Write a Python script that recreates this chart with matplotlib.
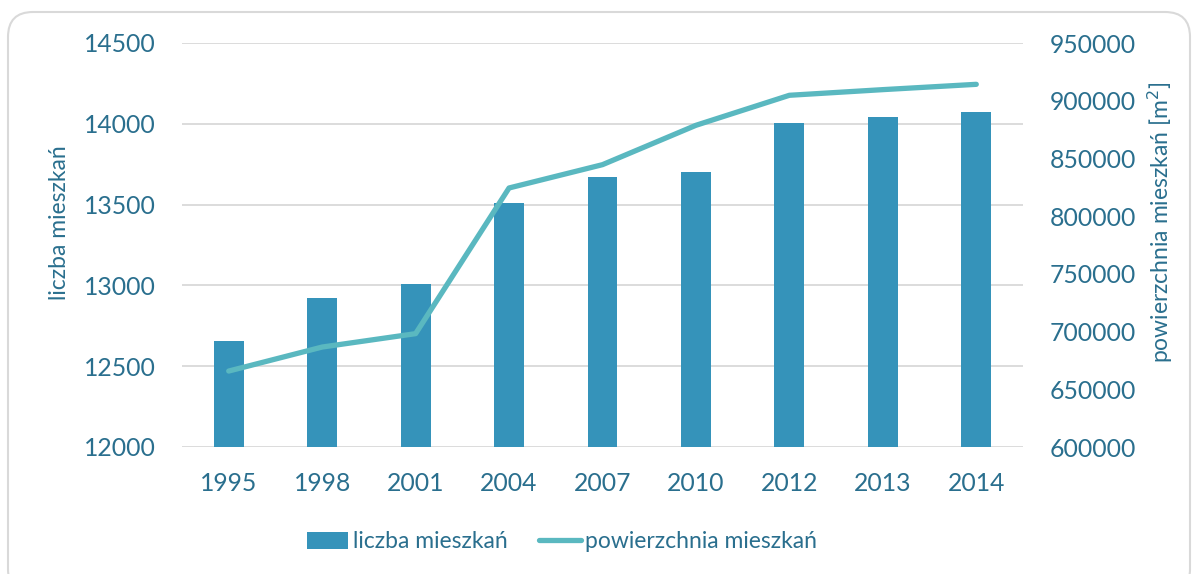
import matplotlib
matplotlib.use('Agg')
from matplotlib import pyplot as plt
from matplotlib.patches import FancyBboxPatch

years = ['1995', '1998', '2001', '2004', '2007', '2010', '2012', '2013', '2014']
liczba = [12657, 12925, 13007, 13507, 13668, 13700, 14004, 14039, 14070]
powierzchnia = [665800, 686600, 698200, 824400, 844600, 878700, 904700, 909600, 914200]

bar_color = '#3593ba'
line_color = '#5ab8c0'
text_color = '#2a6f8e'
grid_color = '#d9d9d9'

plt.rcParams['font.family'] = ['Lato', 'DejaVu Sans']
plt.rcParams['font.size'] = 16

fig = plt.figure(figsize=(11.96, 5.74), dpi=100)
ax = fig.add_axes([182/1196, 1 - 447/574, (1023-182)/1196, (447-43)/574])
ax2 = ax.twinx()

# rounded frame round the whole chart
frame = FancyBboxPatch((8/100, -20/100), (1190-8)/100, (574-12+20)/100,
                       boxstyle='round,pad=0,rounding_size=0.25',
                       transform=fig.dpi_scale_trans, facecolor='none',
                       edgecolor=grid_color, lw=1.5, zorder=0)
fig.patches.append(frame)

x = list(range(len(years)))
ax.bar(x, liczba, width=0.32, color=bar_color, label='liczba mieszkań', zorder=2)
ax2.plot(x, powierzchnia, color=line_color, lw=3.8, solid_capstyle='round',
         solid_joinstyle='round', label='powierzchnia mieszkań', zorder=3)

ax.set_xlim(-0.5, len(years) - 0.5)
ax.set_ylim(12000, 14500)
ax.set_yticks(range(12000, 14501, 500))
ax2.set_ylim(600000, 950000)
ax2.set_yticks(range(600000, 950001, 50000))
ax.set_xticks(x)
ax.set_xticklabels(years)

ax.grid(axis='y', color=grid_color, lw=1.3, zorder=0)
ax.set_axisbelow(True)
for a in (ax, ax2):
    for s in a.spines.values():
        s.set_visible(False)
    a.tick_params(length=0, colors=text_color, labelsize=17.8)
ax.tick_params(axis='x', pad=18)
ax.tick_params(axis='y', pad=19)
ax2.tick_params(axis='y', pad=19)

ax.set_ylabel('liczba mieszkań', color=text_color, fontsize=16.5)
ax.yaxis.set_label_coords(-0.133, 0.555)
ax2.set_ylabel('powierzchnia mieszkań [m$^2$]', color=text_color, fontsize=16.5, rotation=90)
ax2.yaxis.set_label_coords(1.146, 0.555)

h1, l1 = ax.get_legend_handles_labels()
h2, l2 = ax2.get_legend_handles_labels()
leg = fig.legend(h1 + h2, l1 + l2, loc='center', bbox_to_anchor=(562/1196, 1 - 542/574),
                 ncol=2, frameon=False, fontsize=16.5, handlelength=1.8,
                 handletextpad=0.2, columnspacing=1.4)
for t in leg.get_texts():
    t.set_color(text_color)

fig.savefig('out.png', dpi=100)
